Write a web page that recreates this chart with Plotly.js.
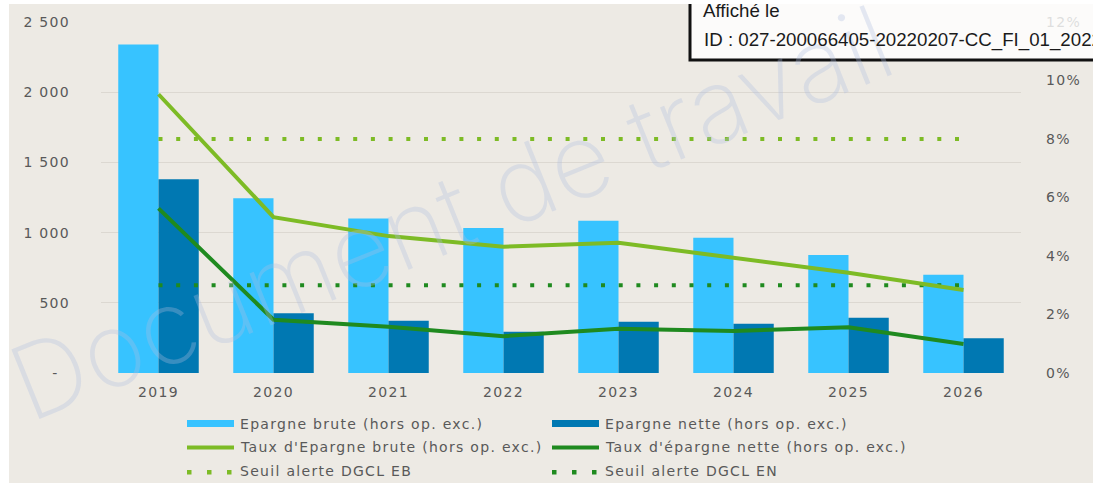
<!DOCTYPE html>
<html>
<head>
<meta charset="utf-8">
<script src="https://cdn.plot.ly/plotly-3.0.1.min.js"></script>
<style>
  html, body { margin: 0; padding: 0; background: #ffffff; }
  #chart { position: absolute; left: 9px; top: 4px; width: 1084px; height: 479px; }
  .xtick text, .ytick text, .y2tick text { letter-spacing: 1.3px; }
</style>
</head>
<body>
<div id="chart"></div>
<script>
// ---- data ----
const years = ['2019', '2020', '2021', '2022', '2023', '2024', '2025', '2026'];
const epargneBrute = [2340, 1245, 1100, 1033, 1085, 964, 840, 700];
const epargneNette = [1380, 425, 373, 293, 365, 351, 394, 247];
const tauxBrute = [9.53, 5.33, 4.68, 4.32, 4.45, 3.95, 3.43, 2.84];
const tauxNette = [5.63, 1.82, 1.58, 1.26, 1.51, 1.44, 1.56, 0.99];
const seuilEB = [8, 8, 8, 8, 8, 8, 8, 8];
const seuilEN = [3, 3, 3, 3, 3, 3, 3, 3];
const seriesNames = [
  'Epargne brute (hors op. exc.)',
  'Epargne nette (hors op. exc.)',
  "Taux d'Epargne brute (hors op. exc.)",
  "Taux d'épargne nette (hors op. exc.)",
  'Seuil alerte DGCL EB',
  'Seuil alerte DGCL EN'
];
const leftTickVals = [0, 500, 1000, 1500, 2000, 2500];
const leftTickText = ['-\u00a0\u00a0', '500', '1 000', '1 500', '2 000', '2 500'];
const rightTickVals = [0, 2, 4, 6, 8, 10, 12];
const rightTickText = ['0%', '2%', '4%', '6%', '8%', '10%', '12%'];
const stampLines = ['Affiché le', 'ID : 027-200066405-20220207-CC_FI_01_2022'];
const watermarkText = 'Document de travail';

// ---- styles ----
const C = {
  lightBlue: '#37C3FF',
  darkBlue: '#0078B2',
  lightGreen: '#7DBB25',
  darkGreen: '#1F8A1F',
  bg: '#EDEAE4',
  grid: '#DCD8D1',
  text: '#595959'
};
const W = 1084, H = 479;
const M = { l: 92, r: 72, t: 18, b: 110 };
const PW = W - M.l - M.r, PH = H - M.t - M.b;
// page pixel -> paper coordinate helpers (for non-data decorations)
const px = x => (x - 9 - M.l) / PW;
const py = y => 1 - (y - 4 - M.t) / PH;

const dots = '4px,13.7px';

const traces = [
  { type: 'bar', name: seriesNames[0], x: years, y: epargneBrute, marker: { color: C.lightBlue }, yaxis: 'y' },
  { type: 'bar', name: seriesNames[1], x: years, y: epargneNette, marker: { color: C.darkBlue }, yaxis: 'y' },
  { type: 'scatter', mode: 'lines', name: seriesNames[4], x: years, y: seuilEB, yaxis: 'y2',
    line: { color: C.lightGreen, width: 4, dash: dots } },
  { type: 'scatter', mode: 'lines', name: seriesNames[5], x: years, y: seuilEN, yaxis: 'y2',
    line: { color: C.darkGreen, width: 4, dash: dots } },
  { type: 'scatter', mode: 'lines', name: seriesNames[2], x: years, y: tauxBrute, yaxis: 'y2',
    line: { color: C.lightGreen, width: 4 } },
  { type: 'scatter', mode: 'lines', name: seriesNames[3], x: years, y: tauxNette, yaxis: 'y2',
    line: { color: C.darkGreen, width: 4 } }
];

// ---- legend (manual, to mimic the original swatches) ----
const legendItems = [
  { kind: 'bar', color: C.lightBlue, col: 0, row: 0 },
  { kind: 'bar', color: C.darkBlue, col: 1, row: 0 },
  { kind: 'line', color: C.lightGreen, col: 0, row: 1 },
  { kind: 'line', color: C.darkGreen, col: 1, row: 1 },
  { kind: 'dots', color: C.lightGreen, col: 0, row: 2 },
  { kind: 'dots', color: C.darkGreen, col: 1, row: 2 }
];
const colX = [187, 552];
const rowY = [423.5, 446.5, 471];
const swLen = 47;

const shapes = [];
const annotations = [];

// watermark
annotations.push({
  xref: 'paper', yref: 'paper', x: px(450), y: py(212), xanchor: 'center', yanchor: 'middle',
  text: watermarkText, showarrow: false, textangle: -22,
  font: { family: 'Inter, Lato, "Open Sans", sans-serif', size: 103, weight: 200, color: 'rgba(175,190,225,0.32)' }
});

legendItems.forEach((it, i) => {
  const x0 = colX[it.col], yc = rowY[it.row];
  if (it.kind === 'bar') {
    shapes.push({ type: 'rect', xref: 'paper', yref: 'paper', x0: px(x0), x1: px(x0 + swLen),
      y0: py(yc - 3.5), y1: py(yc + 3.5), fillcolor: it.color, line: { width: 0 } });
  } else if (it.kind === 'line') {
    shapes.push({ type: 'line', xref: 'paper', yref: 'paper', x0: px(x0), x1: px(x0 + swLen),
      y0: py(yc + 1), y1: py(yc + 1), line: { color: it.color, width: 4 } });
  } else {
    [0, 20, 40].forEach(d => {
      shapes.push({ type: 'rect', xref: 'paper', yref: 'paper', x0: px(x0 + d), x1: px(x0 + d + 4.5),
        y0: py(yc - 1), y1: py(yc + 3.5), fillcolor: it.color, line: { width: 0 } });
    });
  }
  annotations.push({
    xref: 'paper', yref: 'paper', x: px(x0 + 53), y: py(yc), xanchor: 'left', yanchor: 'middle',
    showarrow: false, borderpad: 0, borderwidth: 0,
    text: '<span style="letter-spacing:1.3px">' + seriesNames[i] + '</span>',
    font: { family: 'DejaVu Sans', size: 14, color: C.text }
  });
});

// stamp box
shapes.push({ type: 'rect', xref: 'paper', yref: 'paper', x0: px(690), x1: px(1110), y0: py(60), y1: py(-20),
  fillcolor: 'rgba(255,255,255,0.8)', line: { color: '#111111', width: 3 } });
annotations.push({ xref: 'paper', yref: 'paper', x: px(702), y: py(11), xanchor: 'left', yanchor: 'middle',
  showarrow: false, borderpad: 0, text: stampLines[0], font: { family: 'Liberation Sans', size: 18.7, color: '#1a1a1a' } });
annotations.push({ xref: 'paper', yref: 'paper', x: px(703), y: py(40.5), xanchor: 'left', yanchor: 'middle',
  showarrow: false, borderpad: 0, text: stampLines[1], font: { family: 'Liberation Sans', size: 18.7, color: '#1a1a1a' } });

const tickFont = { family: 'DejaVu Sans', size: 14, color: C.text };

const layout = {
  width: W, height: H,
  margin: M,
  paper_bgcolor: C.bg, plot_bgcolor: C.bg,
  showlegend: false,
  barmode: 'group', bargap: 0.3, bargroupgap: 0,
  xaxis: { type: 'category', tickfont: tickFont, showgrid: false, zeroline: false, showline: false,
    ticks: '', ticklabelstandoff: 9 },
  yaxis: { range: [0, 2500], tickvals: leftTickVals, ticktext: leftTickText, tickfont: tickFont,
    showgrid: true, gridcolor: C.grid, gridwidth: 1, zeroline: false, showline: false, ticks: '',
    ticklabelstandoff: 30 },
  yaxis2: { range: [0, 12], tickvals: rightTickVals, ticktext: rightTickText, tickfont: tickFont, overlaying: 'y',
    side: 'right', showgrid: false, zeroline: false, showline: false, ticks: '', ticklabelstandoff: 24 },
  shapes: shapes,
  annotations: annotations
};

Plotly.newPlot('chart', traces, layout, { staticPlot: true, displayModeBar: false });
</script>
</body>
</html>
